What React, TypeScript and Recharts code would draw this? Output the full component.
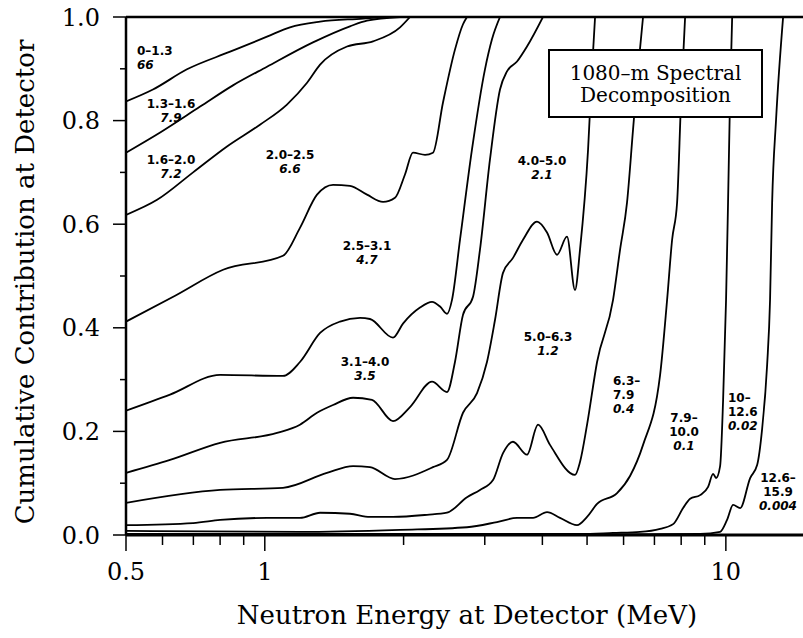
import { LineChart, Line, XAxis, YAxis } from 'recharts'

const SERIF = "'DejaVu Serif', serif"
const SANS = "'DejaVu Sans', sans-serif"

// axis ticks
const X_TICKS = [0.5, 0.6, 0.7, 0.8, 0.9, 1, 2, 3, 4, 5, 6, 7, 8, 9, 10]
const X_LABELED = [0.5, 1, 10]
const Y_TICKS = [0, 0.1, 0.2, 0.3, 0.4, 0.5, 0.6, 0.7, 0.8, 0.9, 1]
const Y_LABELED = [0, 0.2, 0.4, 0.6, 0.8, 1]

// cumulative contribution of neutrons born below each cut energy, [E at detector (MeV), fraction]
const CUT_1_3: [number, number][] = [
  [0.5, 0.837], [0.572, 0.86], [0.678, 0.899], [0.841, 0.933], [1.011, 0.962],
  [1.134, 0.98], [1.318, 0.991], [1.633, 0.997], [1.8, 1.0],
]
const CUT_1_6: [number, number][] = [
  [0.5, 0.738], [0.593, 0.777], [0.724, 0.827], [0.853, 0.868], [1.011, 0.904],
  [1.272, 0.951], [1.53, 0.982], [1.666, 0.993], [1.965, 1.0],
]
const CUT_2_0: [number, number][] = [
  [0.5, 0.618], [0.584, 0.647], [0.699, 0.7], [0.828, 0.75], [0.976, 0.792],
  [1.117, 0.831], [1.235, 0.873], [1.318, 0.908], [1.508, 0.943], [1.717, 0.953],
  [1.965, 0.98], [2.065, 1.0],
]
const CUT_2_5: [number, number][] = [
  [0.5, 0.412], [0.639, 0.462], [0.812, 0.512], [1.095, 0.539], [1.192, 0.593],
  [1.298, 0.657], [1.406, 0.676], [1.53, 0.674], [1.666, 0.657], [1.805, 0.643],
  [1.916, 0.651], [2.014, 0.696], [2.096, 0.738], [2.226, 0.734], [2.316, 0.738],
  [2.435, 0.835], [2.585, 0.937], [2.691, 0.986], [2.745, 1.0],
]
const CUT_3_1: [number, number][] = [
  [0.5, 0.24], [0.623, 0.271], [0.8, 0.309], [1.095, 0.307], [1.192, 0.334],
  [1.318, 0.39], [1.456, 0.412], [1.609, 0.419], [1.691, 0.417], [1.897, 0.381],
  [1.994, 0.408], [2.171, 0.439], [2.305, 0.45], [2.399, 0.441], [2.484, 0.427],
  [2.547, 0.454], [2.651, 0.57], [2.814, 0.744], [3.003, 0.899], [3.11, 0.957],
  [3.237, 1.0],
]
const CUT_4_0: [number, number][] = [
  [0.5, 0.12], [0.623, 0.145], [0.8, 0.178], [1.063, 0.197], [1.192, 0.213],
  [1.298, 0.236], [1.406, 0.251], [1.554, 0.265], [1.708, 0.261], [1.897, 0.22],
  [2.065, 0.247], [2.305, 0.296], [2.484, 0.276], [2.585, 0.334], [2.691, 0.425],
  [2.829, 0.46], [2.929, 0.551], [3.079, 0.725], [3.237, 0.86], [3.352, 0.895],
  [3.524, 0.914], [3.704, 0.943], [4.012, 1.0],
]
const CUT_5_0: [number, number][] = [
  [0.5, 0.062], [0.8, 0.087], [1.095, 0.091], [1.364, 0.12], [1.554, 0.133],
  [1.691, 0.131], [1.916, 0.108], [2.316, 0.131], [2.484, 0.145], [2.691, 0.236],
  [2.886, 0.274], [3.033, 0.334], [3.157, 0.415], [3.286, 0.506], [3.454, 0.535],
  [3.631, 0.57], [3.894, 0.605], [4.094, 0.584], [4.303, 0.541], [4.523, 0.576],
  [4.708, 0.473], [4.827, 0.551], [5.025, 0.744], [5.126, 0.899], [5.204, 1.0],
]
const CUT_6_3: [number, number][] = [
  [0.5, 0.019], [0.699, 0.023], [0.8, 0.029], [1.011, 0.033], [1.192, 0.033],
  [1.318, 0.043], [1.53, 0.041], [1.691, 0.035], [1.897, 0.035], [2.248, 0.039],
  [2.484, 0.043], [2.745, 0.073], [2.929, 0.087], [3.126, 0.106], [3.286, 0.158],
  [3.454, 0.18], [3.704, 0.155], [3.914, 0.213], [4.155, 0.174], [4.708, 0.116],
  [4.827, 0.141], [5.0, 0.213], [5.256, 0.334], [5.693, 0.454], [5.896, 0.551],
  [6.105, 0.642], [6.291, 0.783], [6.45, 0.899], [6.613, 1.0],
]
const CUT_7_9: [number, number][] = [
  [0.5, 0.008], [1.192, 0.006], [1.965, 0.01], [2.745, 0.015], [3.189, 0.025],
  [3.524, 0.033], [3.817, 0.033], [4.094, 0.044], [4.368, 0.033], [4.755, 0.019],
  [5.0, 0.035], [5.256, 0.06], [5.808, 0.081], [6.197, 0.114], [6.613, 0.174],
  [7.201, 0.309], [7.457, 0.454], [7.646, 0.57], [7.839, 0.642], [7.997, 0.841],
  [8.159, 1.0],
]
const CUT_10: [number, number][] = [
  [0.5, 0.002], [1.965, 0.002], [4.827, 0.002], [5.693, 0.004], [6.515, 0.006],
  [7.201, 0.012], [7.684, 0.021], [8.078, 0.052], [8.365, 0.07], [8.793, 0.077],
  [9.152, 0.093], [9.383, 0.118], [9.525, 0.11], [9.717, 0.133], [9.864, 0.261],
  [10.01, 0.454], [10.11, 0.642], [10.21, 0.841], [10.32, 1.0],
]
const CUT_12_6: [number, number][] = [
  [0.5, 0.001], [5.336, 0.001], [8.793, 0.002], [9.717, 0.006], [10.06, 0.029],
  [10.37, 0.058], [10.74, 0.052], [11.29, 0.11], [11.69, 0.135], [11.98, 0.203],
  [12.29, 0.329], [12.47, 0.454], [12.6, 0.642], [12.85, 0.802], [13.31, 1.0],
]

// energy bins (MeV at source) and their share of the detector signal (%)
const BIN_RANGES = [
  '0–1.3', '1.3–1.6', '1.6–2.0', '2.0–2.5', '2.5–3.1', '3.1–4.0',
  '4.0–5.0', '5.0–6.3', '6.3–\n7.9', '7.9–\n10.0', '10–\n12.6', '12.6–\n15.9',
]
const BIN_SHARES = ['66', '7.9', '7.2', '6.6', '4.7', '3.5', '2.1', '1.2', '0.4', '0.1', '0.02', '0.004']

// where each bin label sits (centre of first line)
const LABEL_SPOTS = [
  { x: 137, y: 51, align: 'left' },
  { x: 171, y: 104, align: 'center' },
  { x: 171, y: 160, align: 'center' },
  { x: 290, y: 155, align: 'center' },
  { x: 367, y: 246, align: 'center' },
  { x: 365, y: 362, align: 'center' },
  { x: 542, y: 161, align: 'center' },
  { x: 548, y: 337, align: 'center' },
  { x: 613, y: 381, align: 'left' },
  { x: 684, y: 418, align: 'center' },
  { x: 728, y: 398, align: 'left' },
  { x: 778, y: 478, align: 'center' },
]

const CURVES = [
  CUT_1_3, CUT_1_6, CUT_2_0, CUT_2_5, CUT_3_1, CUT_4_0,
  CUT_5_0, CUT_6_3, CUT_7_9, CUT_10, CUT_12_6,
].map((pts) => pts.map(([x, y]) => ({ x, y })))

const X_DOMAIN: [number, number] = [0.5, 14.7]

// eslint-disable-next-line @typescript-eslint/no-explicit-any
function BottomTick({ x, y, payload }: any) {
  const v = payload.value
  const major = X_LABELED.includes(v)
  return (
    <g>
      <line x1={x} x2={x} y1={y} y2={y + (major ? 16 : 10)} stroke="#000" strokeWidth={1.5} />
      {major && (
        <text x={x} y={y + 45} textAnchor="middle" fontFamily={SERIF} fontSize={24} fill="#000">
          {String(v)}
        </text>
      )}
    </g>
  )
}

// eslint-disable-next-line @typescript-eslint/no-explicit-any
function TopTick({ x, y, payload }: any) {
  const major = X_LABELED.includes(payload.value)
  return <line x1={x} x2={x} y1={y} y2={y + (major ? 13 : 10)} stroke="#000" strokeWidth={1.5} />
}

// eslint-disable-next-line @typescript-eslint/no-explicit-any
function LeftTick({ x, y, payload }: any) {
  const v = payload.value
  const major = Y_LABELED.includes(v)
  return (
    <g>
      <line x1={x - (major ? 13 : 6)} x2={x} y1={y} y2={y} stroke="#000" strokeWidth={1.5} />
      {major && (
        <text x={x - 26} y={y + 8.5} textAnchor="end" fontFamily={SERIF} fontSize={24} fill="#000">
          {v.toFixed(1)}
        </text>
      )}
    </g>
  )
}

function XTitle() {
  return (
    <text x={467} y={624} textAnchor="middle" fontFamily={SERIF} fontSize={26} fill="#000">
      Neutron Energy at Detector (MeV)
    </text>
  )
}

function YTitle() {
  return (
    <text transform="translate(34,282) rotate(-90)" textAnchor="middle" fontFamily={SERIF} fontSize={26} fill="#000">
      Cumulative Contribution at Detector
    </text>
  )
}

export default function App() {
  return (
    <div style={{ position: 'absolute', left: 0, top: 0, width: 803, height: 638, background: '#fff' }}>
      <LineChart width={803} height={638} margin={{ top: 0, right: 0, bottom: 0, left: 0 }}>
        <XAxis
          xAxisId="top"
          orientation="top"
          type="number"
          scale="log"
          domain={X_DOMAIN}
          allowDataOverflow
          ticks={X_TICKS}
          interval={0}
          height={17}
          tickSize={0}
          tickMargin={0}
          tickLine={false}
          axisLine={{ stroke: '#000', strokeWidth: 2.5 }}
          tick={<TopTick />}
        />
        <XAxis
          dataKey="x"
          type="number"
          scale="log"
          domain={X_DOMAIN}
          allowDataOverflow
          ticks={X_TICKS}
          interval={0}
          height={103}
          tickSize={0}
          tickMargin={0}
          tickLine={false}
          axisLine={{ stroke: '#000', strokeWidth: 3 }}
          tick={<BottomTick />}
          label={<XTitle />}
        />
        <YAxis
          type="number"
          domain={[0, 1]}
          allowDataOverflow
          ticks={Y_TICKS}
          interval={0}
          width={126}
          tickSize={0}
          tickMargin={0}
          tickLine={false}
          axisLine={{ stroke: '#000', strokeWidth: 2.5 }}
          tick={<LeftTick />}
          label={<YTitle />}
        />
        {CURVES.map((rows, i) => (
          <Line
            key={i}
            data={rows}
            dataKey="y"
            type="monotone"
            stroke="#000"
            strokeWidth={1.8}
            dot={false}
            activeDot={false}
            isAnimationActive={false}
          />
        ))}
      </LineChart>

      {/* ── bin labels ── */}
      {BIN_RANGES.map((range, i) => {
        const spot = LABEL_SPOTS[i]
        const centred = spot.align === 'center'
        return (
          <div
            key={range}
            style={{
              position: 'absolute',
              left: spot.x,
              top: spot.y - 7,
              transform: centred ? 'translateX(-50%)' : undefined,
              textAlign: centred ? 'center' : 'left',
              fontFamily: SANS,
              fontWeight: 700,
              fontSize: 12,
              lineHeight: '14px',
              whiteSpace: 'pre-line',
              color: '#000',
            }}
          >
            <div>{range}</div>
            <div style={{ fontStyle: 'italic' }}>{BIN_SHARES[i]}</div>
          </div>
        )
      })}

      {/* ── title box ── */}
      <div
        style={{
          position: 'absolute',
          left: 548,
          top: 49,
          width: 215,
          height: 69,
          boxSizing: 'border-box',
          border: '2px solid #000',
          background: '#fff',
          display: 'flex',
          flexDirection: 'column',
          justifyContent: 'center',
          alignItems: 'center',
          fontFamily: SERIF,
          fontSize: 20,
          lineHeight: '22px',
          color: '#000',
        }}
      >
        <div>1080–m Spectral</div>
        <div>Decomposition</div>
      </div>
    </div>
  )
}
